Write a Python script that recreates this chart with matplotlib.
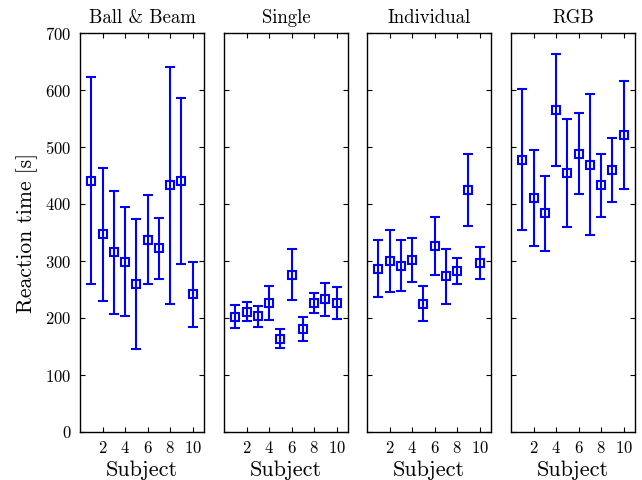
import matplotlib
matplotlib.use("Agg")
import matplotlib.pyplot as plt
import numpy as np

plt.rcParams['font.family'] = 'serif'
plt.rcParams['font.serif'] = ['cmr10', 'DejaVu Serif']
plt.rcParams['mathtext.fontset'] = 'cm'
plt.rcParams['axes.formatter.use_mathtext'] = True

subjects = list(range(1, 11))
titles = ["Ball & Beam", "Single", "Individual", "RGB"]

ballbeam_mean = [441, 347, 315, 299, 259, 337, 322, 433, 440, 242]
ballbeam_err = [181, 117, 108, 95, 114, 78, 54, 208, 146, 57]

single_mean = [202, 211, 203, 227, 164, 276, 181, 226, 233, 226]
single_err = [20, 17, 18, 30, 16, 45, 21, 18, 29, 28]

individual_mean = [286, 300, 292, 302, 225, 326, 273, 283, 424, 296]
individual_err = [50, 54, 44, 39, 31, 51, 48, 23, 63, 28]

rgb_mean = [478, 410, 384, 565, 454, 488, 469, 433, 460, 521]
rgb_err = [123, 84, 66, 99, 95, 71, 124, 55, 56, 95]

means = [ballbeam_mean, single_mean, individual_mean, rgb_mean]
errs = [ballbeam_err, single_err, individual_err, rgb_err]

fig = plt.figure(figsize=(6.42, 4.8), dpi=100)
W, H = 642, 480
lefts = [80, 224, 367, 511]
width = 124
bottom, top = 432, 33
axes = []
for i in range(4):
    ax = fig.add_axes([lefts[i] / W, (H - bottom) / H, width / W, (bottom - top) / H],
                      sharey=axes[0] if axes else None)
    axes.append(ax)
    ax.errorbar(subjects, means[i], yerr=errs[i], fmt='s', color=(0, 0, 1),
                mfc='none', mec=(0, 0, 1), ms=5.5, mew=1.5, elinewidth=1.5,
                capsize=3.3, capthick=1.5)
    ax.set_xlim(0, 11)
    ax.set_ylim(0, 700)
    ax.set_xticks([2, 4, 6, 8, 10])
    ax.set_yticks(range(0, 701, 100))
    ax.tick_params(direction='in', top=True, right=True, labelsize=12, length=3.5)
    ax.tick_params(axis='x', pad=6)
    ax.tick_params(axis='y', pad=6)
    ax.set_title(titles[i], fontsize=13.5, pad=7)
    ax.set_xlabel("Subject", fontsize=16, labelpad=3)
    if i > 0:
        ax.tick_params(labelleft=False)
    for s in ax.spines.values():
        s.set_linewidth(1.0)
axes[0].set_ylabel("Reaction time [s]", fontsize=15.5, labelpad=5)

fig.savefig("out.png", dpi=100)
